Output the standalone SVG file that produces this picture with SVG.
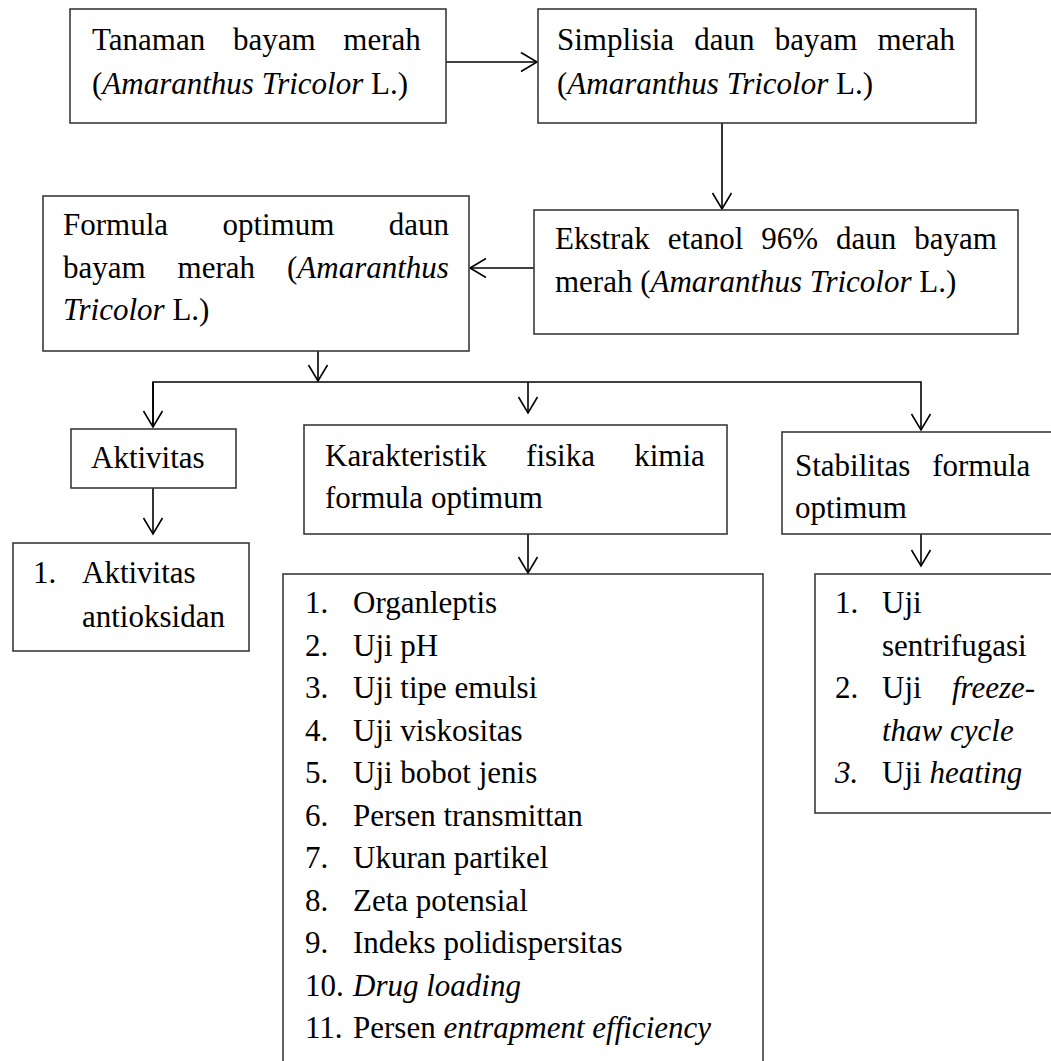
<svg xmlns="http://www.w3.org/2000/svg" width="1051" height="1061" viewBox="0 0 1051 1061">
<style>
.box{fill:#fff;stroke:#3a3a3a;stroke-width:1.6}
.t{font-family:"Liberation Serif","Times New Roman",serif;font-size:31px;fill:#000}
.i{font-style:italic}
.c{fill:none;stroke:#000;stroke-width:1.6}
</style>
<defs>
<marker id="ah" markerUnits="userSpaceOnUse" viewBox="-18 -11 20 22" refX="0" refY="0" markerWidth="20" markerHeight="22" orient="auto">
<path d="M-16,-9.5 L0,0 L-16,9.5" fill="none" stroke="#000" stroke-width="1.6"/>
</marker>
</defs>
<rect width="1051" height="1061" fill="#fff"/>

<g id="connectors">
<line class="c" x1="446" y1="62" x2="537" y2="62" marker-end="url(#ah)"/>
<line class="c" x1="722" y1="123" x2="722" y2="209" marker-end="url(#ah)"/>
<line class="c" x1="534" y1="268" x2="470" y2="268" marker-end="url(#ah)"/>
<line class="c" x1="318" y1="351" x2="318" y2="381" marker-end="url(#ah)"/>
<polyline class="c" points="153,427 153,382 921,382 921,430" marker-end="url(#ah)"/>
<line class="c" x1="528" y1="382" x2="528" y2="413" marker-end="url(#ah)"/>
<line class="c" x1="153" y1="488" x2="153" y2="534" marker-end="url(#ah)"/>
<line class="c" x1="528" y1="534" x2="528" y2="573" marker-end="url(#ah)"/>
<line class="c" x1="921" y1="534" x2="921" y2="566" marker-end="url(#ah)"/>
<line class="c" x1="153" y1="382" x2="153" y2="427" marker-end="url(#ah)"/>
</g>

<g id="n-tanaman">
<rect class="box" x="70" y="9" width="376" height="114"/>
<text class="t" x="92" y="50" style="word-spacing:20px">Tanaman bayam merah</text>
<text class="t" x="92" y="94">(<tspan class="i">Amaranthus Tricolor</tspan> L.)</text>
</g>

<g id="n-simplisia">
<rect class="box" x="538" y="9" width="438" height="114"/>
<text class="t" x="557" y="50" style="word-spacing:12.4px">Simplisia daun bayam merah</text>
<text class="t" x="557" y="94">(<tspan class="i">Amaranthus Tricolor</tspan> L.)</text>
</g>

<g id="n-ekstrak">
<rect class="box" x="534" y="210" width="484" height="124"/>
<text class="t" x="555" y="249" style="word-spacing:10.2px">Ekstrak etanol 96% daun bayam</text>
<text class="t" x="555" y="292">merah (<tspan class="i">Amaranthus Tricolor</tspan> L.)</text>
</g>

<g id="n-formula">
<rect class="box" x="43" y="196" width="426" height="155"/>
<text class="t" x="63" y="235" style="word-spacing:46.6px">Formula optimum daun</text>
<text class="t" x="63" y="278" style="word-spacing:24.2px">bayam merah (<tspan class="i">Amaranthus</tspan></text>
<text class="t" x="63" y="320"><tspan class="i">Tricolor</tspan> L.)</text>
</g>

<g id="n-aktivitas">
<rect class="box" x="71" y="429" width="165" height="59"/>
<text class="t" x="91" y="468">Aktivitas</text>
</g>

<g id="n-antioksidan">
<rect class="box" x="13" y="543" width="236" height="108"/>
<text class="t" x="33" y="583">1.</text>
<text class="t" x="82" y="583">Aktivitas</text>
<text class="t" x="82" y="627">antioksidan</text>
</g>

<g id="n-karakteristik">
<rect class="box" x="304" y="425" width="423" height="109"/>
<text class="t" x="325" y="466" style="word-spacing:31.5px">Karakteristik fisika kimia</text>
<text class="t" x="325" y="508">formula optimum</text>
</g>

<g id="n-list">
<rect class="box" x="283" y="574" width="480" height="520"/>
<text class="t" x="305" y="613">1.</text><text class="t" x="353" y="613">Organleptis</text>
<text class="t" x="305" y="655.5">2.</text><text class="t" x="353" y="655.5">Uji pH</text>
<text class="t" x="305" y="698">3.</text><text class="t" x="353" y="698">Uji tipe emulsi</text>
<text class="t" x="305" y="740.5">4.</text><text class="t" x="353" y="740.5">Uji viskositas</text>
<text class="t" x="305" y="783">5.</text><text class="t" x="353" y="783">Uji bobot jenis</text>
<text class="t" x="305" y="825.5">6.</text><text class="t" x="353" y="825.5">Persen transmittan</text>
<text class="t" x="305" y="868">7.</text><text class="t" x="353" y="868">Ukuran partikel</text>
<text class="t" x="305" y="910.5">8.</text><text class="t" x="353" y="910.5">Zeta potensial</text>
<text class="t" x="305" y="953">9.</text><text class="t" x="353" y="953">Indeks polidispersitas</text>
<text class="t" x="305" y="995.5">10.</text><text class="t i" x="353" y="995.5">Drug loading</text>
<text class="t" x="305" y="1038">11.</text><text class="t" x="353" y="1038">Persen <tspan class="i">entrapment efficiency</tspan></text>
</g>

<g id="n-stabilitas">
<rect class="box" x="782" y="432" width="300" height="102"/>
<text class="t" x="795" y="476" style="word-spacing:14px">Stabilitas formula</text>
<text class="t" x="795" y="518">optimum</text>
</g>

<g id="n-uji">
<rect class="box" x="815" y="574" width="260" height="239"/>
<text class="t" x="835" y="613">1.</text><text class="t" x="882" y="613">Uji</text>
<text class="t" x="882" y="655.5">sentrifugasi</text>
<text class="t" x="835" y="698">2.</text><text class="t" x="882" y="698">Uji</text><text class="t i" x="952" y="698">freeze-</text>
<text class="t i" x="882" y="740.5">thaw cycle</text>
<text class="t i" x="835" y="783">3.</text><text class="t" x="882" y="783">Uji <tspan class="i">heating</tspan></text>
</g>
</svg>
